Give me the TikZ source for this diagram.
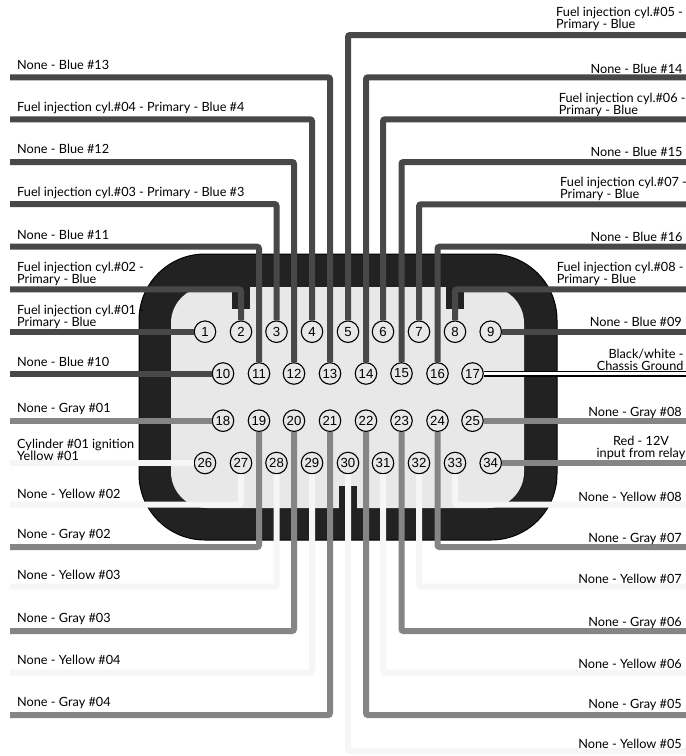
\documentclass[tikz,border=0pt]{standalone}
\usepackage{fontspec}
\setmainfont{Lato}
\newfontfamily\pinfont{Liberation Sans}
\definecolor{bluew}{HTML}{484848}
\definecolor{grayw}{HTML}{858585}
\definecolor{yelw}{HTML}{F6F6F6}
\definecolor{bodyd}{HTML}{222222}
\definecolor{bodyl}{HTML}{E8E8E8}
\tikzset{
  wire/.style={line width=6pt,rounded corners=2pt},
  bw/.style={wire,draw=bluew},
  gw/.style={wire,draw=grayw},
  yw/.style={wire,draw=yelw},
  pin/.style={circle,draw=black,line width=1.1pt,fill=bodyl,minimum size=21.5pt,inner sep=0pt,font=\pinfont\fontsize{13.2}{13}\selectfont},
  lab/.style={inner sep=0pt,font=\fontsize{12.7}{12}\selectfont},
  ll/.style={lab,anchor=base west,yshift=-0.9pt},
  lr/.style={lab,anchor=base east,yshift=-0.9pt},
  ml/.style={lab,anchor=south west,align=left},
  mr/.style={lab,anchor=south east,align=right},
  mc/.style={lab,anchor=south,align=center},
}
\begin{document}
\begin{tikzpicture}[x=1pt,y=-1pt]
\useasboundingbox[fill=white] (0,0) rectangle (686,756);
% connector body
\draw[black,fill=bodyd,line width=1pt,rounded corners=66pt] (139,254) rectangle (557,540);
\fill[bodyl,rounded corners=36pt] (171,287) rectangle (524,508);
\fill[bodyd] (232,287) rectangle (250,309);
\fill[bodyd] (446,287) rectangle (464,309);
\fill[bodyd] (339,486) rectangle (357,509);
% pins
\foreach \n/\x/\y in {1/205/331.7,2/241/331.7,3/276.5/331.7,4/312/331.7,5/348/331.7,6/383/331.7,7/419/331.7,8/455/331.7,9/490.7/331.7,
 10/223/373.5,11/259/373.5,12/294/373.5,13/330/373.5,14/366/373.5,15/401.5/373.5,16/437.5/373.5,17/472.5/373.5,
 18/223/420.7,19/259/420.7,20/294/420.7,21/330/420.7,22/366/420.7,23/401.5/420.7,24/437.5/420.7,25/472.5/420.7,
 26/205/463,27/241/463,28/276.5/463,29/312/463,30/348/463,31/383/463,32/419/463,33/455/463,34/490.7/463}
  {\node[pin] (p\n) at (\x,\y) {\n};}
% blue wires with a bend
\foreach \n/\ex/\ey in {13/10/77.3,4/10/119.3,12/10/162,3/10/204,11/10/246.7,2/10/289.3,
 5/686/35,14/686/77.3,6/686/119.3,15/686/162,7/686/204.3,16/686/246.7,8/686/289.3}
  {\coordinate (e\n) at (\ex,\ey); \draw[bw] (e\n) -| (p\n);}
% straight blue wires
\foreach \n/\ex/\ey in {1/10/331.7,10/10/373.5,9/686/331.7}
  {\coordinate (e\n) at (\ex,\ey); \draw[bw] (e\n) -- (p\n);}
% ground wire
\coordinate (e17) at (686,373.5);
\draw[line width=6pt,black] (e17) -- (p17);
\draw[line width=2.2pt,white] (e17) -- (p17);
% gray wires
\foreach \n/\ex/\ey in {18/10/420.7,25/686/420.7,34/686/463}
  {\coordinate (e\n) at (\ex,\ey); \draw[gw] (e\n) -- (p\n);}
\foreach \n/\ex/\ey in {19/10/547,20/10/631,21/10/715,24/686/547,23/686/631,22/686/715}
  {\coordinate (e\n) at (\ex,\ey); \draw[gw] (e\n) -| (p\n);}
% yellow wires
\coordinate (e26) at (10,463); \draw[yw] (e26) -- (p26);
\foreach \n/\ex/\ey in {27/10/504.7,28/10/586.7,29/10/672.7,33/686/504.7,32/686/586.7,31/686/672.7,30/686/751}
  {\coordinate (e\n) at (\ex,\ey); \draw[yw] (e\n) -| (p\n);}
% left labels
\node[ll] (l13) at (17,68.7) {None - Blue \#13};
\node[ll] (l4) at (17,110.7) {Fuel injection cyl.\#04 - Primary - Blue \#4};
\node[ll] (l12) at (17,152.7) {None - Blue \#12};
\node[ll] (l3) at (17,195.7) {Fuel injection cyl.\#03 - Primary - Blue \#3};
\node[ll] (l11) at (17,238.7) {None - Blue \#11};
\node[ml] (l2) at (17,285.5) {Fuel injection cyl.\#02 -\\Primary - Blue};
\node[ml] (l1) at (17,328.5) {Fuel injection cyl.\#01 -\\Primary - Blue};
\node[ll] (l10) at (17,365.7) {None - Blue \#10};
\node[ll] (l18) at (17,412) {None - Gray \#01};
\node[ml] (l26) at (17,461) {Cylinder \#01 ignition\\Yellow \#01};
\node[ll] (l27) at (17,497.3) {None - Yellow \#02};
\node[ll] (l19) at (17,538) {None - Gray \#02};
\node[ll] (l28) at (17,579) {None - Yellow \#03};
\node[ll] (l20) at (17,622) {None - Gray \#03};
\node[ll] (l29) at (17,664) {None - Yellow \#04};
\node[ll] (l21) at (17,706) {None - Gray \#04};
% right labels
\node[ml] (l5) at (556,30.5) {Fuel injection cyl.\#05 -\\Primary - Blue};
\node[lr] (l14) at (682.7,72.7) {None - Blue \#14};
\node[ml] (l6) at (558.7,117) {Fuel injection cyl.\#06 -\\Primary - Blue};
\node[lr] (l15) at (682.7,155.7) {None - Blue \#15};
\node[ml] (l7) at (560,201) {Fuel injection cyl.\#07 -\\Primary - Blue};
\node[lr] (l16) at (682.7,240.3) {None - Blue \#16};
\node[ml] (l8) at (556.7,285.5) {Fuel injection cyl.\#08 -\\Primary - Blue};
\node[lr] (l9) at (682,325.7) {None - Blue \#09};
\node[mr] (l17) at (683.7,371) {Black/white -\\Chassis Ground};
\node[lr] (l25) at (682,415.3) {None - Gray \#08};
\node[mc] (l34) at (641,459.7) {Red - 12V\\input from relay};
\node[lr] (l33) at (682,501) {None - Yellow \#08};
\node[lr] (l24) at (682,541.7) {None - Gray \#07};
\node[lr] (l32) at (682,582.7) {None - Yellow \#07};
\node[lr] (l23) at (682,625.7) {None - Gray \#06};
\node[lr] (l31) at (682,667.7) {None - Yellow \#06};
\node[lr] (l22) at (682,707.7) {None - Gray \#05};
\node[lr] (l30) at (682,747.3) {None - Yellow \#05};
\end{tikzpicture}
\end{document}
